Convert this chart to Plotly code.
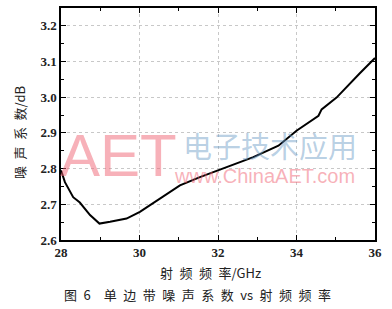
import plotly.graph_objects as go

freq = [28.0, 28.1, 28.31, 28.48, 28.74, 28.98, 29.25, 29.67, 30.01, 30.44, 31.03, 31.54, 32.05,
        32.56, 32.9, 33.54, 33.75, 34.0, 34.56, 34.64, 35.02, 35.45, 35.62, 36.0]
nf = [2.795, 2.762, 2.72, 2.705, 2.67, 2.646, 2.651, 2.66, 2.679, 2.711, 2.753, 2.776, 2.797,
      2.818, 2.832, 2.864, 2.883, 2.906, 2.948, 2.966, 2.999, 3.05, 3.068, 3.11]

xticks = [28, 30, 32, 34, 36]
yticks = [2.6, 2.7, 2.8, 2.9, 3.0, 3.1, 3.2]

serif = "Liberation Serif"
cjk = "Noto Sans CJK SC"
sp = "\u2002"

fig = go.Figure()
fig.add_trace(go.Scatter(x=freq, y=nf, mode="lines",
                         line=dict(color="black", width=2), showlegend=False))

axis_common = dict(showline=True, linecolor="black", linewidth=1.5, mirror="ticks",
                   ticks="inside", ticklen=5, tickwidth=1.2, tickcolor="black",
                   showgrid=True, gridcolor="#c8c8c8", griddash="dot", gridwidth=1,
                   zeroline=False,
                   tickfont=dict(family=serif, size=13, color="#222"))

fig.update_xaxes(range=[28, 36], tickvals=xticks, ticktext=[f"<b>{v}</b>" for v in xticks],
                 minor=dict(ticks="inside", ticklen=3, tickcolor="black", dtick=1, showgrid=False),
                 **axis_common)
fig.update_yaxes(range=[2.6, 3.25], tickvals=yticks, ticktext=[f"<b>{v:.1f}</b>" for v in yticks],
                 minor=dict(ticks="inside", ticklen=3, tickcolor="black", dtick=0.05, tick0=2.6, showgrid=False),
                 **axis_common)

# axis titles
fig.add_annotation(x=0.475, y=-0.141, xref="paper", yref="paper", xanchor="center", yanchor="middle",
                   text=sp.join("射频频率") + "/GHz", showarrow=False,
                   font=dict(family=cjk, size=13, color="#222"))
fig.add_annotation(x=-0.13, y=0.4615, xref="paper", yref="paper", xanchor="center", yanchor="middle",
                   text=sp.join("噪声系数") + "/dB", showarrow=False, textangle=-90,
                   font=dict(family=cjk, size=13, color="#222"))

# watermark
fig.add_annotation(x=-0.01, y=0.363, xref="paper", yref="paper", xanchor="left", yanchor="middle",
                   text="AET", showarrow=False,
                   font=dict(family="Liberation Sans", size=60, color="rgba(240,100,115,0.5)"))
fig.add_annotation(x=0.95, y=0.41, xref="paper", yref="paper", xanchor="right", yanchor="middle",
                   text="电子技术应用", showarrow=False,
                   font=dict(family=cjk, size=29, color="rgba(100,150,195,0.45)"))
fig.add_annotation(x=0.943, y=0.274, xref="paper", yref="paper", xanchor="right", yanchor="middle",
                   text="www.ChinaAET.com", showarrow=False,
                   font=dict(family="Liberation Sans", size=20, color="rgba(240,100,115,0.5)"))

# caption
cap = "图" + sp + "6" + sp + sp + sp.join("单边带噪声系数") + sp + "vs" + sp + sp.join("射频频率")
fig.add_annotation(x=0.436, y=-0.233, xref="paper", yref="paper", xanchor="center", yanchor="middle",
                   text=cap, showarrow=False,
                   font=dict(family=cjk, size=13, color="#222"))

fig.update_layout(width=392, height=309, margin=dict(l=61, r=17, t=6, b=69),
                  plot_bgcolor="white", paper_bgcolor="white")

fig.write_html("out.html")
